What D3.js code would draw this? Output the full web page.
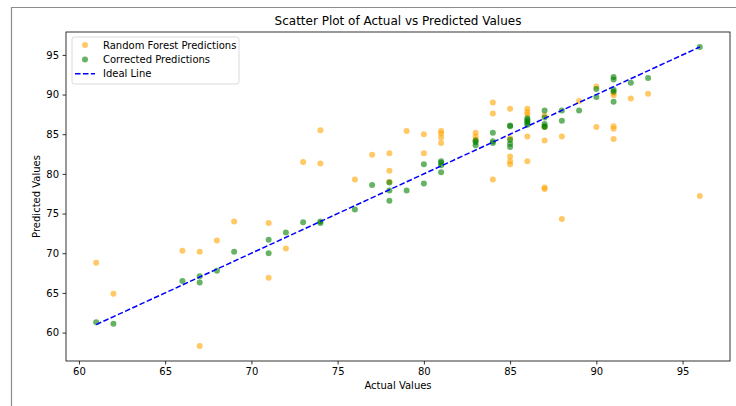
<!DOCTYPE html>
<html>
<head>
<meta charset="utf-8">
<script src="https://cdn.jsdelivr.net/npm/d3@7"></script>
<style>
  html, body { margin: 0; padding: 0; background: #fff; }
  svg { display: block; font-family: "DejaVu Sans", sans-serif; }
</style>
</head>
<body>
<svg id="chart" width="736" height="406"></svg>
<script>
// Actual target values
const actual = [61,62,66,67,67,68,69,71,71,72,73,74,74,76,77,78,78,78,79,80,80,
  81,81,81,81,83,83,83,84,84,84,85,85,85,85,85,86,86,86,86,86,
  87,87,87,87,87,88,88,89,90,90,91,91,91,91,91,92,93,96];
// Random forest predictions
const rfPredicted = [68.8,64.9,70.3,70.2,58.3,71.6,74.0,73.8,66.9,70.6,81.5,85.5,81.3,79.3,82.4,82.6,80.4,79.0,85.4,85.0,82.6,
  85.4,85.1,84.6,83.9,85.2,84.7,84.3,89.0,87.6,79.3,88.2,84.5,82.2,81.6,81.2,88.2,87.8,87.5,84.7,81.6,
  87.4,85.9,84.2,78.3,78.1,84.7,74.3,89.2,91.0,85.9,90.2,89.9,86.0,85.7,84.4,89.5,90.1,77.2];
// Corrected predictions
const corrected = [61.3,61.1,66.5,67.1,66.3,67.8,70.2,71.7,70.0,72.6,73.9,74.0,73.8,75.5,78.6,78.9,77.9,76.6,77.9,81.2,78.8,
  81.6,81.4,81.1,80.2,84.2,84.0,83.6,85.2,84.1,83.9,86.1,86.0,84.3,83.8,83.4,87.0,86.8,86.6,86.4,86.2,
  88.0,87.1,86.3,86.0,85.9,88.0,86.7,88.0,90.7,89.7,92.2,91.9,90.6,90.4,89.1,91.5,92.1,96.0];

const xTicks = [60,65,70,75,80,85,90,95];
const yTicks = [60,65,70,75,80,85,90,95];
const legendLabels = ["Random Forest Predictions", "Corrected Predictions", "Ideal Line"];
const title = "Scatter Plot of Actual vs Predicted Values";

const svg = d3.select("#chart");
const plot = { left: 66, right: 730, top: 32, bottom: 361 };

// Axis limits with 5% padding around the data
function padded(vals) {
  const lo = d3.min(vals), hi = d3.max(vals), m = (hi - lo) * 0.05;
  return [lo - m, hi + m];
}
const x = d3.scaleLinear().domain(padded(actual)).range([plot.left, plot.right]);
const y = d3.scaleLinear().domain(padded(rfPredicted.concat(corrected))).range([plot.bottom, plot.top]);

// Outer frame of the output cell
svg.append("path")
  .attr("d", "M11.5,406 L11.5,7.5 L736,7.5")
  .attr("fill", "none").attr("stroke", "#8c8c8c").attr("stroke-width", 1.2);

const orange = "#FFA500", green = "#008000", blue = "#0000FF";

// Scatter series
svg.append("g").selectAll("circle").data(actual).join("circle")
  .attr("cx", d => x(d)).attr("cy", (d, i) => y(rfPredicted[i]))
  .attr("r", 3).attr("fill", orange).attr("fill-opacity", 0.6);

svg.append("g").selectAll("circle").data(actual).join("circle")
  .attr("cx", d => x(d)).attr("cy", (d, i) => y(corrected[i]))
  .attr("r", 3).attr("fill", green).attr("fill-opacity", 0.6);

// Ideal y = x line
const ext = d3.extent(actual);
svg.append("line")
  .attr("x1", x(ext[0])).attr("y1", y(ext[0]))
  .attr("x2", x(ext[1])).attr("y2", y(ext[1]))
  .attr("stroke", blue).attr("stroke-width", 1.5)
  .attr("stroke-dasharray", "5.55,2.4");

// Axes
const xAxis = d3.axisBottom(x).tickValues(xTicks).tickSize(3.5).tickPadding(3.5);
const yAxis = d3.axisLeft(y).tickValues(yTicks).tickSize(3.5).tickPadding(3.5);

const gx = svg.append("g").attr("transform", `translate(0,${plot.bottom})`).call(xAxis);
const gy = svg.append("g").attr("transform", `translate(${plot.left},0)`).call(yAxis);
[gx, gy].forEach(g => {
  g.select(".domain").remove();
  g.selectAll(".tick line").attr("stroke", "#000").attr("stroke-width", 0.8);
  g.selectAll(".tick text").attr("fill", "#000").attr("font-size", 10)
    .attr("font-family", "DejaVu Sans, sans-serif");
});

// Frame of the axes
svg.append("rect")
  .attr("x", plot.left).attr("y", plot.top)
  .attr("width", plot.right - plot.left).attr("height", plot.bottom - plot.top)
  .attr("fill", "none").attr("stroke", "#000").attr("stroke-width", 0.8);

// Titles
svg.append("text").attr("x", (plot.left + plot.right) / 2).attr("y", 25)
  .attr("text-anchor", "middle").attr("font-size", 12).attr("fill", "#000").text(title);
svg.append("text").attr("x", (plot.left + plot.right) / 2).attr("y", 389)
  .attr("text-anchor", "middle").attr("font-size", 10).attr("fill", "#000").text("Actual Values");
svg.append("text").attr("transform", `translate(40,${(plot.top + plot.bottom) / 2}) rotate(-90)`)
  .attr("text-anchor", "middle").attr("font-size", 10).attr("fill", "#000").text("Predicted Values");

// Legend
const lg = svg.append("g").attr("transform", "translate(72,37)");
lg.append("rect").attr("width", 167).attr("height", 47).attr("rx", 2.5)
  .attr("fill", "#fff").attr("fill-opacity", 0.8)
  .attr("stroke", "#d0d0d0").attr("stroke-width", 0.8);
const rows = [
  { label: legendLabels[0], kind: "dot", color: orange },
  { label: legendLabels[1], kind: "dot", color: green },
  { label: legendLabels[2], kind: "line", color: blue }
];
rows.forEach((r, i) => {
  const cy = 8 + i * 14.4;
  if (r.kind === "dot") {
    lg.append("circle").attr("cx", 13).attr("cy", cy).attr("r", 3)
      .attr("fill", r.color).attr("fill-opacity", 0.6);
  } else {
    lg.append("line").attr("x1", 3).attr("x2", 23).attr("y1", cy).attr("y2", cy)
      .attr("stroke", r.color).attr("stroke-width", 1.5).attr("stroke-dasharray", "5.55,2.4");
  }
  lg.append("text").attr("x", 31).attr("y", cy).attr("dy", "0.35em")
    .attr("font-size", 10).attr("fill", "#000").text(r.label);
});
</script>
</body>
</html>
